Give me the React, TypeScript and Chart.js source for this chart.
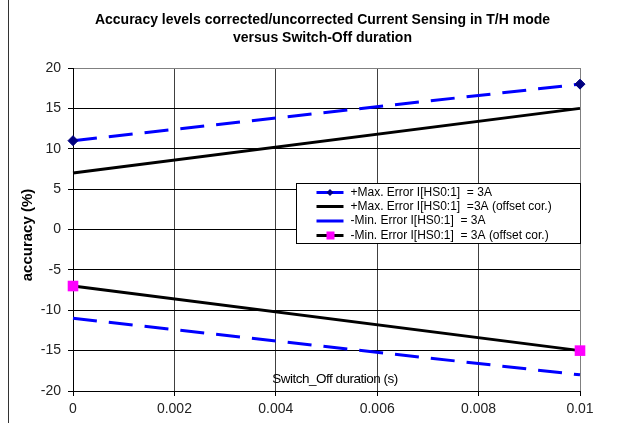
import React, { useEffect, useRef } from 'react';
import { Chart, registerables } from 'chart.js';

Chart.register(...registerables);

const xValues = [0, 0.01];
const maxError = [11, 18];
const maxErrorCor = [7, 15];
const minError = [-11, -18];
const minErrorCor = [-7, -15];

const xTicks = [0, 0.002, 0.004, 0.006, 0.008, 0.01];
const xTickLabels = ['0', '0.002', '0.004', '0.006', '0.008', '0.01'];
const yTicks = [-20, -15, -10, -5, 0, 5, 10, 15, 20];

const seriesLabels = [
  '+Max. Error I[HS0:1]  = 3A',
  '+Max. Error I[HS0:1]  =3A (offset cor.)',
  '-Min. Error I[HS0:1]  = 3A',
  '-Min. Error I[HS0:1]  = 3A (offset cor.)',
];
const titleLines = [
  'Accuracy levels corrected/uncorrected Current Sensing in T/H mode',
  'versus Switch-Off duration',
];
const yTitle = 'accuracy (%)';
const xTitle = 'Switch_Off duration (s)';

const FONT = '"Liberation Sans", Arial, sans-serif';
const BLUE = '#0000FF';
const NAVY = '#000080';
const MAGENTA = '#FF00FF';

const toPoints = (ys: number[]) => xValues.map((x, i) => ({ x, y: ys[i] }));

const decorPlugin = {
  id: 'decor',
  beforeDraw(chart: any) {
    const ctx = chart.ctx;
    ctx.save();
    ctx.strokeStyle = '#333';
    ctx.lineWidth = 1;
    ctx.beginPath();
    ctx.moveTo(8.5, 0);
    ctx.lineTo(8.5, chart.height);
    ctx.stroke();
    ctx.restore();
  },
  afterDraw(chart: any) {
    const ctx = chart.ctx;
    const area = chart.chartArea;
    ctx.save();
    // title
    ctx.fillStyle = '#000';
    ctx.textAlign = 'center';
    ctx.textBaseline = 'middle';
    ctx.font = `bold 14px ${FONT}`;
    const cx = (area.left + area.right) / 2 - 4;
    ctx.fillText(titleLines[0], cx, 20);
    ctx.fillText(titleLines[1], cx, 38);

    // y title
    ctx.save();
    ctx.translate(28, 235);
    ctx.rotate(-Math.PI / 2);
    ctx.font = `bold 15px ${FONT}`;
    ctx.fillText(yTitle, 0, 0);
    ctx.restore();

    // x title (inside plot)
    ctx.save();
    ctx.font = `13.5px ${FONT}`;
    try { (ctx as any).letterSpacing = '-0.5px'; } catch (e) {}
    ctx.fillText(xTitle, 335, 379);
    ctx.restore();

    // legend
    const bw = 284;
    const bh = 60;
    const bx = Math.round(area.right - bw) + 0.5;
    const by = Math.round(area.top + 115) + 0.5;
    ctx.fillStyle = '#fff';
    ctx.fillRect(bx, by, bw, bh);
    ctx.strokeStyle = '#000';
    ctx.lineWidth = 1;
    ctx.strokeRect(bx, by, bw, bh);
    const rowY = [9, 23, 37.5, 52];
    const colors = [BLUE, '#000', BLUE, '#000'];
    ctx.font = `12px ${FONT}`;
    ctx.textAlign = 'left';
    for (let i = 0; i < 4; i++) {
      const y = by + rowY[i];
      ctx.strokeStyle = colors[i];
      ctx.lineWidth = 3;
      ctx.beginPath();
      ctx.moveTo(bx + 20, y);
      ctx.lineTo(bx + 47, y);
      ctx.stroke();
      if (i === 0) {
        ctx.fillStyle = NAVY;
        ctx.beginPath();
        const mx = bx + 33.5;
        ctx.moveTo(mx, y - 3.5);
        ctx.lineTo(mx + 3.5, y);
        ctx.lineTo(mx, y + 3.5);
        ctx.lineTo(mx - 3.5, y);
        ctx.closePath();
        ctx.fill();
      }
      if (i === 3) {
        ctx.fillStyle = MAGENTA;
        ctx.fillRect(bx + 30, y - 4, 8, 8);
      }
      ctx.fillStyle = '#000';
      ctx.fillText(seriesLabels[i], bx + 54, y);
    }
    ctx.restore();
  },
};

export default function App() {
  const canvasRef = useRef<HTMLCanvasElement | null>(null);

  useEffect(() => {
    const canvas = canvasRef.current;
    if (!canvas) return;
    const chart = new Chart(canvas, {
      type: 'line',
      data: {
        datasets: [
          {
            label: seriesLabels[0],
            data: toPoints(maxError),
            borderColor: BLUE,
            borderWidth: 3,
            borderDash: [24, 12],
            pointStyle: 'rectRot',
            pointRadius: 5,
            pointBackgroundColor: NAVY,
            pointBorderColor: NAVY,
            pointBorderWidth: 1,
            clip: false,
          },
          {
            label: seriesLabels[1],
            data: toPoints(maxErrorCor),
            borderColor: '#000',
            borderWidth: 3,
            pointRadius: 0,
            clip: false,
          },
          {
            label: seriesLabels[2],
            data: toPoints(minError),
            borderColor: BLUE,
            borderWidth: 3,
            borderDash: [24, 12],
            pointRadius: 0,
            clip: false,
          },
          {
            label: seriesLabels[3],
            data: toPoints(minErrorCor),
            borderColor: '#000',
            borderWidth: 3,
            pointStyle: 'rect',
            pointRadius: 7.5,
            pointBackgroundColor: MAGENTA,
            pointBorderColor: MAGENTA,
            pointBorderWidth: 0,
            clip: false,
          },
        ],
      },
      options: {
        responsive: false,
        animation: false,
        events: [],
        layout: { padding: { left: 0, right: 40, top: 68, bottom: 0 } },
        plugins: {
          legend: { display: false },
          title: { display: false },
          tooltip: { enabled: false },
        },
        scales: {
          x: {
            type: 'linear',
            min: 0,
            max: 0.01,
            afterBuildTicks: (scale: any) => {
              scale.ticks = xTicks.map((v) => ({ value: v }));
            },
            afterFit: (scale: any) => {
              scale.height = 32;
            },
            ticks: {
              color: '#222',
              font: { family: FONT, size: 14 },
              padding: 5,
              maxRotation: 0,
              autoSkip: false,
              callback: (_v: any, i: number) => xTickLabels[i],
            },
            grid: {
              color: (c: any) => (c.tick && c.tick.value === 0.01 ? '#808080' : '#404040'),
              tickColor: '#000',
              tickLength: 5,
              lineWidth: 1,
            },
            border: { display: true, color: '#000', width: 1 },
          },
          y: {
            type: 'linear',
            min: -20,
            max: 20,
            afterBuildTicks: (scale: any) => {
              scale.ticks = yTicks.map((v) => ({ value: v }));
            },
            afterFit: (scale: any) => {
              scale.width = 73;
            },
            ticks: {
              color: '#222',
              font: { family: FONT, size: 14 },
              padding: 7,
              autoSkip: false,
              callback: (v: any) => String(v),
            },
            grid: {
              color: (c: any) => (c.tick && c.tick.value === 20 ? '#808080' : '#000'),
              tickColor: '#000',
              tickLength: 5,
              lineWidth: 1,
            },
            border: { display: true, color: '#000', width: 1 },
          },
        },
      },
      plugins: [decorPlugin],
    });
    return () => chart.destroy();
  }, []);

  return (
    <div style={{ position: 'absolute', left: 0, top: 0, width: 620, height: 423, background: '#fff' }}>
      <canvas ref={canvasRef} width={620} height={423} style={{ width: 620, height: 423, display: 'block' }} />
    </div>
  );
}
